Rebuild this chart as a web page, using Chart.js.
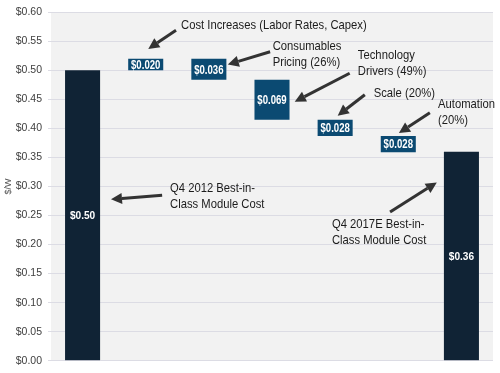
<!DOCTYPE html>
<html>
<head>
<meta charset="utf-8">
<script src="https://cdn.jsdelivr.net/npm/chart.js@4/dist/chart.umd.min.js"></script>
<style>
  html, body { margin: 0; padding: 0; background: #fff; }
  #wrap { width: 500px; height: 373px; }
</style>
</head>
<body>
<div id="wrap"><canvas id="chart" width="500" height="373"></canvas></div>
<script>
// waterfall data ($/W)
const categories = ["Q4 2012", "Cost Increases", "Consumables Pricing", "Technology Drivers", "Scale", "Automation", "Q4 2017E"];
const startCost = 0.50;
const changes = [0.020, -0.036, -0.069, -0.028, -0.028];
const endCost = 0.36;
const barLabels = ["$0.50", "$0.020", "$0.036", "$0.069", "$0.028", "$0.028", "$0.36"];
const tickValues = [0, 0.05, 0.10, 0.15, 0.20, 0.25, 0.30, 0.35, 0.40, 0.45, 0.50, 0.55, 0.60];

// callouts (x in category units, y in $/W)
const noteLines = [
  ["Cost Increases (Labor Rates, Capex)"],
  ["Consumables", "Pricing (26%)"],
  ["Technology", "Drivers (49%)"],
  ["Scale (20%)"],
  ["Automation", "(20%)"],
  ["Q4 2012 Best-in-", "Class Module Cost"],
  ["Q4 2017E Best-in-", "Class Module Cost"]
];
const noteX = [1.56, 3.01, 4.36, 4.61, 5.63, 1.385, 3.95];
const noteY = [0.578, 0.541, 0.525, 0.461, 0.441, 0.297, 0.234];
const arrowFrom = [[1.48, 0.569], [2.97, 0.532], [4.23, 0.495], [4.47, 0.458], [5.50, 0.427], [1.26, 0.285], [4.87, 0.256]];
const arrowTo = [[1.04, 0.537], [2.30, 0.510], [3.36, 0.446], [4.04, 0.422], [5.01, 0.392], [0.45, 0.278], [5.61, 0.307]];

const sans = "'Liberation Sans', Arial, sans-serif";

// floating bars from running total
const bars = [[0, startCost]];
let level = startCost;
changes.forEach(c => {
  bars.push([level, level + c]);
  level += c;
});
bars.push([0, endCost]);
const colors = bars.map((b, i) => (i === 0 || i === bars.length - 1) ? "#102335" : "#0b4a72");

// narrow text: squeeze the font sideways
function narrowText(ctx, text, x, y, squeeze) {
  ctx.save();
  ctx.translate(x, y);
  ctx.scale(squeeze, 1);
  ctx.fillText(text, 0, 0);
  ctx.restore();
}

const plotBg = {
  id: "plotBg",
  beforeDraw(chart) {
    const a = chart.chartArea;
    const ctx = chart.ctx;
    ctx.save();
    ctx.fillStyle = "#f2f2f2";
    ctx.fillRect(a.left, a.top, a.right - a.left, a.bottom - a.top);
    ctx.restore();
  }
};

const barText = {
  id: "barText",
  afterDatasetsDraw(chart) {
    const ctx = chart.ctx;
    const meta = chart.getDatasetMeta(0);
    ctx.save();
    ctx.fillStyle = "#ffffff";
    ctx.textAlign = "center";
    ctx.textBaseline = "middle";
    meta.data.forEach((el, i) => {
      const p = el.getProps(["x", "y", "base"], true);
      const ends = i === 0 || i === meta.data.length - 1;
      ctx.font = ends ? "bold 11px " + sans : "bold 12px " + sans;
      narrowText(ctx, barLabels[i], p.x, (p.y + p.base) / 2 + 1, ends ? 0.92 : 0.8);
    });
    ctx.restore();
  }
};

function drawArrow(ctx, x1, y1, x2, y2) {
  const ang = Math.atan2(y2 - y1, x2 - x1);
  const head = 11;
  const hw = 5.5;
  const bx = x2 - head * Math.cos(ang);
  const by = y2 - head * Math.sin(ang);
  ctx.beginPath();
  ctx.moveTo(x1, y1);
  ctx.lineTo(bx, by);
  ctx.stroke();
  ctx.beginPath();
  ctx.moveTo(x2, y2);
  ctx.lineTo(bx + hw * Math.sin(ang), by - hw * Math.cos(ang));
  ctx.lineTo(bx - hw * Math.sin(ang), by + hw * Math.cos(ang));
  ctx.closePath();
  ctx.fill();
}

const callouts = {
  id: "callouts",
  afterDraw(chart) {
    const ctx = chart.ctx;
    const xs = chart.scales.x;
    const ys = chart.scales.y;
    const step = xs.getPixelForValue(1) - xs.getPixelForValue(0);
    const px = v => xs.getPixelForValue(0) + v * step;
    ctx.save();
    ctx.fillStyle = "#1c1c1c";
    ctx.font = "13px " + sans;
    ctx.textAlign = "left";
    ctx.textBaseline = "middle";
    noteLines.forEach((lines, i) => {
      const y0 = ys.getPixelForValue(noteY[i]);
      lines.forEach((t, j) => narrowText(ctx, t, px(noteX[i]), y0 + j * 16, 0.865));
    });
    ctx.strokeStyle = "#333333";
    ctx.fillStyle = "#333333";
    ctx.lineWidth = 3;
    arrowFrom.forEach((f, i) => {
      const t = arrowTo[i];
      drawArrow(ctx, px(f[0]), ys.getPixelForValue(f[1]), px(t[0]), ys.getPixelForValue(t[1]));
    });
    ctx.restore();
  }
};

new Chart(document.getElementById("chart").getContext("2d"), {
  type: "bar",
  data: {
    labels: categories,
    datasets: [{
      data: bars,
      backgroundColor: colors,
      borderWidth: 0,
      barPercentage: 0.555,
      categoryPercentage: 1
    }]
  },
  options: {
    responsive: false,
    animation: false,
    layout: { padding: { top: 7, right: 7, bottom: 12, left: 3 } },
    plugins: { legend: { display: false }, tooltip: { enabled: false } },
    scales: {
      x: { display: false },
      y: {
        min: 0,
        max: 0.6,
        afterFit(scale) { scale.width = 48; },
        afterBuildTicks(scale) { scale.ticks = tickValues.map(v => ({ value: v })); },
        title: {
          display: true,
          text: "$/W",
          color: "#555",
          font: { family: sans, size: 9 },
          padding: 0
        },
        grid: { color: "#dcdce4", tickLength: 3, drawTicks: true },
        border: { display: false },
        ticks: {
          color: "#404040",
          padding: 6,
          font: { family: sans, size: 10.5 },
          callback: v => "$" + v.toFixed(2)
        }
      }
    }
  },
  plugins: [plotBg, barText, callouts]
});
</script>
</body>
</html>
